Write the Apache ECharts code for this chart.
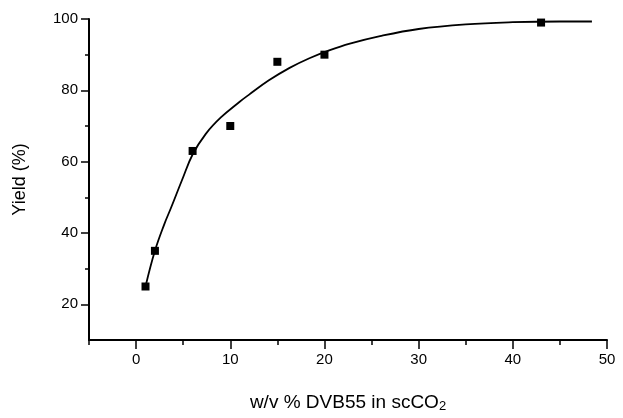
<!DOCTYPE html>
<html>
<head>
<meta charset="utf-8">
<script src="https://cdn.jsdelivr.net/npm/echarts@6/dist/echarts.min.js"></script>
<style>
  html, body { margin: 0; padding: 0; background: #fff; }
  #main { width: 623px; height: 418px; }
</style>
</head>
<body>
<div id="main"></div>
<script>
// measured points
var dvbX = [1, 2, 6, 10, 15, 20, 43];
var yieldY = [25, 35, 63, 70, 88, 90, 99];

// fitted curve
var fitX = [1, 2, 3, 3.7, 4.9, 6, 7.4, 9, 11, 12, 14.1, 16.3, 18.4, 20.5, 22.7, 25.9, 30, 35, 40, 45, 48.4];
var fitY = [25, 35, 42.5, 47, 55, 62, 67.8, 72.4, 76.8, 78.8, 82.8, 86.3, 89, 91.2, 93.1, 95.2, 97.2, 98.5, 99.1, 99.3, 99.3];

// tick labels
var xTicks = [0, 10, 20, 30, 40, 50];
var xMinor = [-5, 5, 15, 25, 35, 45];
var yTicks = [20, 40, 60, 80, 100];
var yMinor = [30, 50, 70, 90];

(function() {
  var myChart = echarts.init(document.getElementById("main"));

  var pts = dvbX.map(function(x, i) { return [x, yieldY[i]]; });
  var curve = fitX.map(function(x, i) { return [x, fitY[i]]; });

  var font = "Liberation Sans, Arial, sans-serif";

  var option = {
    animation: false,
    grid: { left: 89, right: 16, top: 19, bottom: 73 },
    xAxis: [
      {
        type: "value",
        min: -5,
        max: 50,
        position: "bottom",
        name: "w/v % DVB55 in scCO{sub|2}",
        nameLocation: "middle",
        nameGap: 52,
        nameTextStyle: {
          color: "#000",
          fontSize: 19,
          fontFamily: font,
          rich: {
            sub: { fontSize: 13, verticalAlign: "bottom", padding: [8, 0, 0, 0], fontFamily: font, color: "#000" }
          }
        },
        axisLine: { onZero: false, lineStyle: { color: "#000", width: 2 } },
        axisTick: { customValues: xTicks, length: 9, lineStyle: { color: "#000", width: 1.5 } },
        axisLabel: { customValues: xTicks, color: "#000", fontSize: 15, fontFamily: font, margin: 12 },
        splitLine: { show: false }
      },
      {
        type: "value",
        min: -5,
        max: 50,
        position: "bottom",
        offset: 0,
        axisLine: { show: false, onZero: false },
        axisTick: { customValues: xMinor, length: 5, lineStyle: { color: "#000", width: 1.5 } },
        axisLabel: { show: false },
        splitLine: { show: false }
      }
    ],
    yAxis: [
      {
        type: "value",
        min: 10,
        max: 100,
        position: "left",
        name: "Yield (%)",
        nameLocation: "middle",
        nameGap: 60,
        nameTextStyle: { color: "#000", fontSize: 18, fontFamily: font },
        axisLine: { show: true, onZero: false, lineStyle: { color: "#000", width: 2 } },
        axisTick: { show: true, customValues: yTicks, length: 8, lineStyle: { color: "#000", width: 1.5 } },
        axisLabel: { customValues: yTicks, color: "#000", fontSize: 15, fontFamily: font, margin: 11 },
        splitLine: { show: false }
      },
      {
        type: "value",
        min: 10,
        max: 100,
        position: "left",
        offset: 0,
        axisLine: { show: false, onZero: false },
        axisTick: { show: true, customValues: yMinor, length: 4, lineStyle: { color: "#000", width: 1.5 } },
        axisLabel: { show: false },
        splitLine: { show: false }
      }
    ],
    series: [
      {
        name: "fit",
        type: "line",
        data: curve,
        smooth: 0.4,
        showSymbol: false,
        symbol: "none",
        lineStyle: { color: "#000", width: 1.8 },
        z: 2
      },
      {
        name: "yield",
        type: "scatter",
        data: pts,
        symbol: "rect",
        symbolSize: 8,
        itemStyle: { color: "#000", opacity: 1 },
        z: 3
      }
    ]
  };

  myChart.setOption(option);
  window.addEventListener("resize", function() {
    myChart.resize();
  });
})();
</script>
</body>
</html>
